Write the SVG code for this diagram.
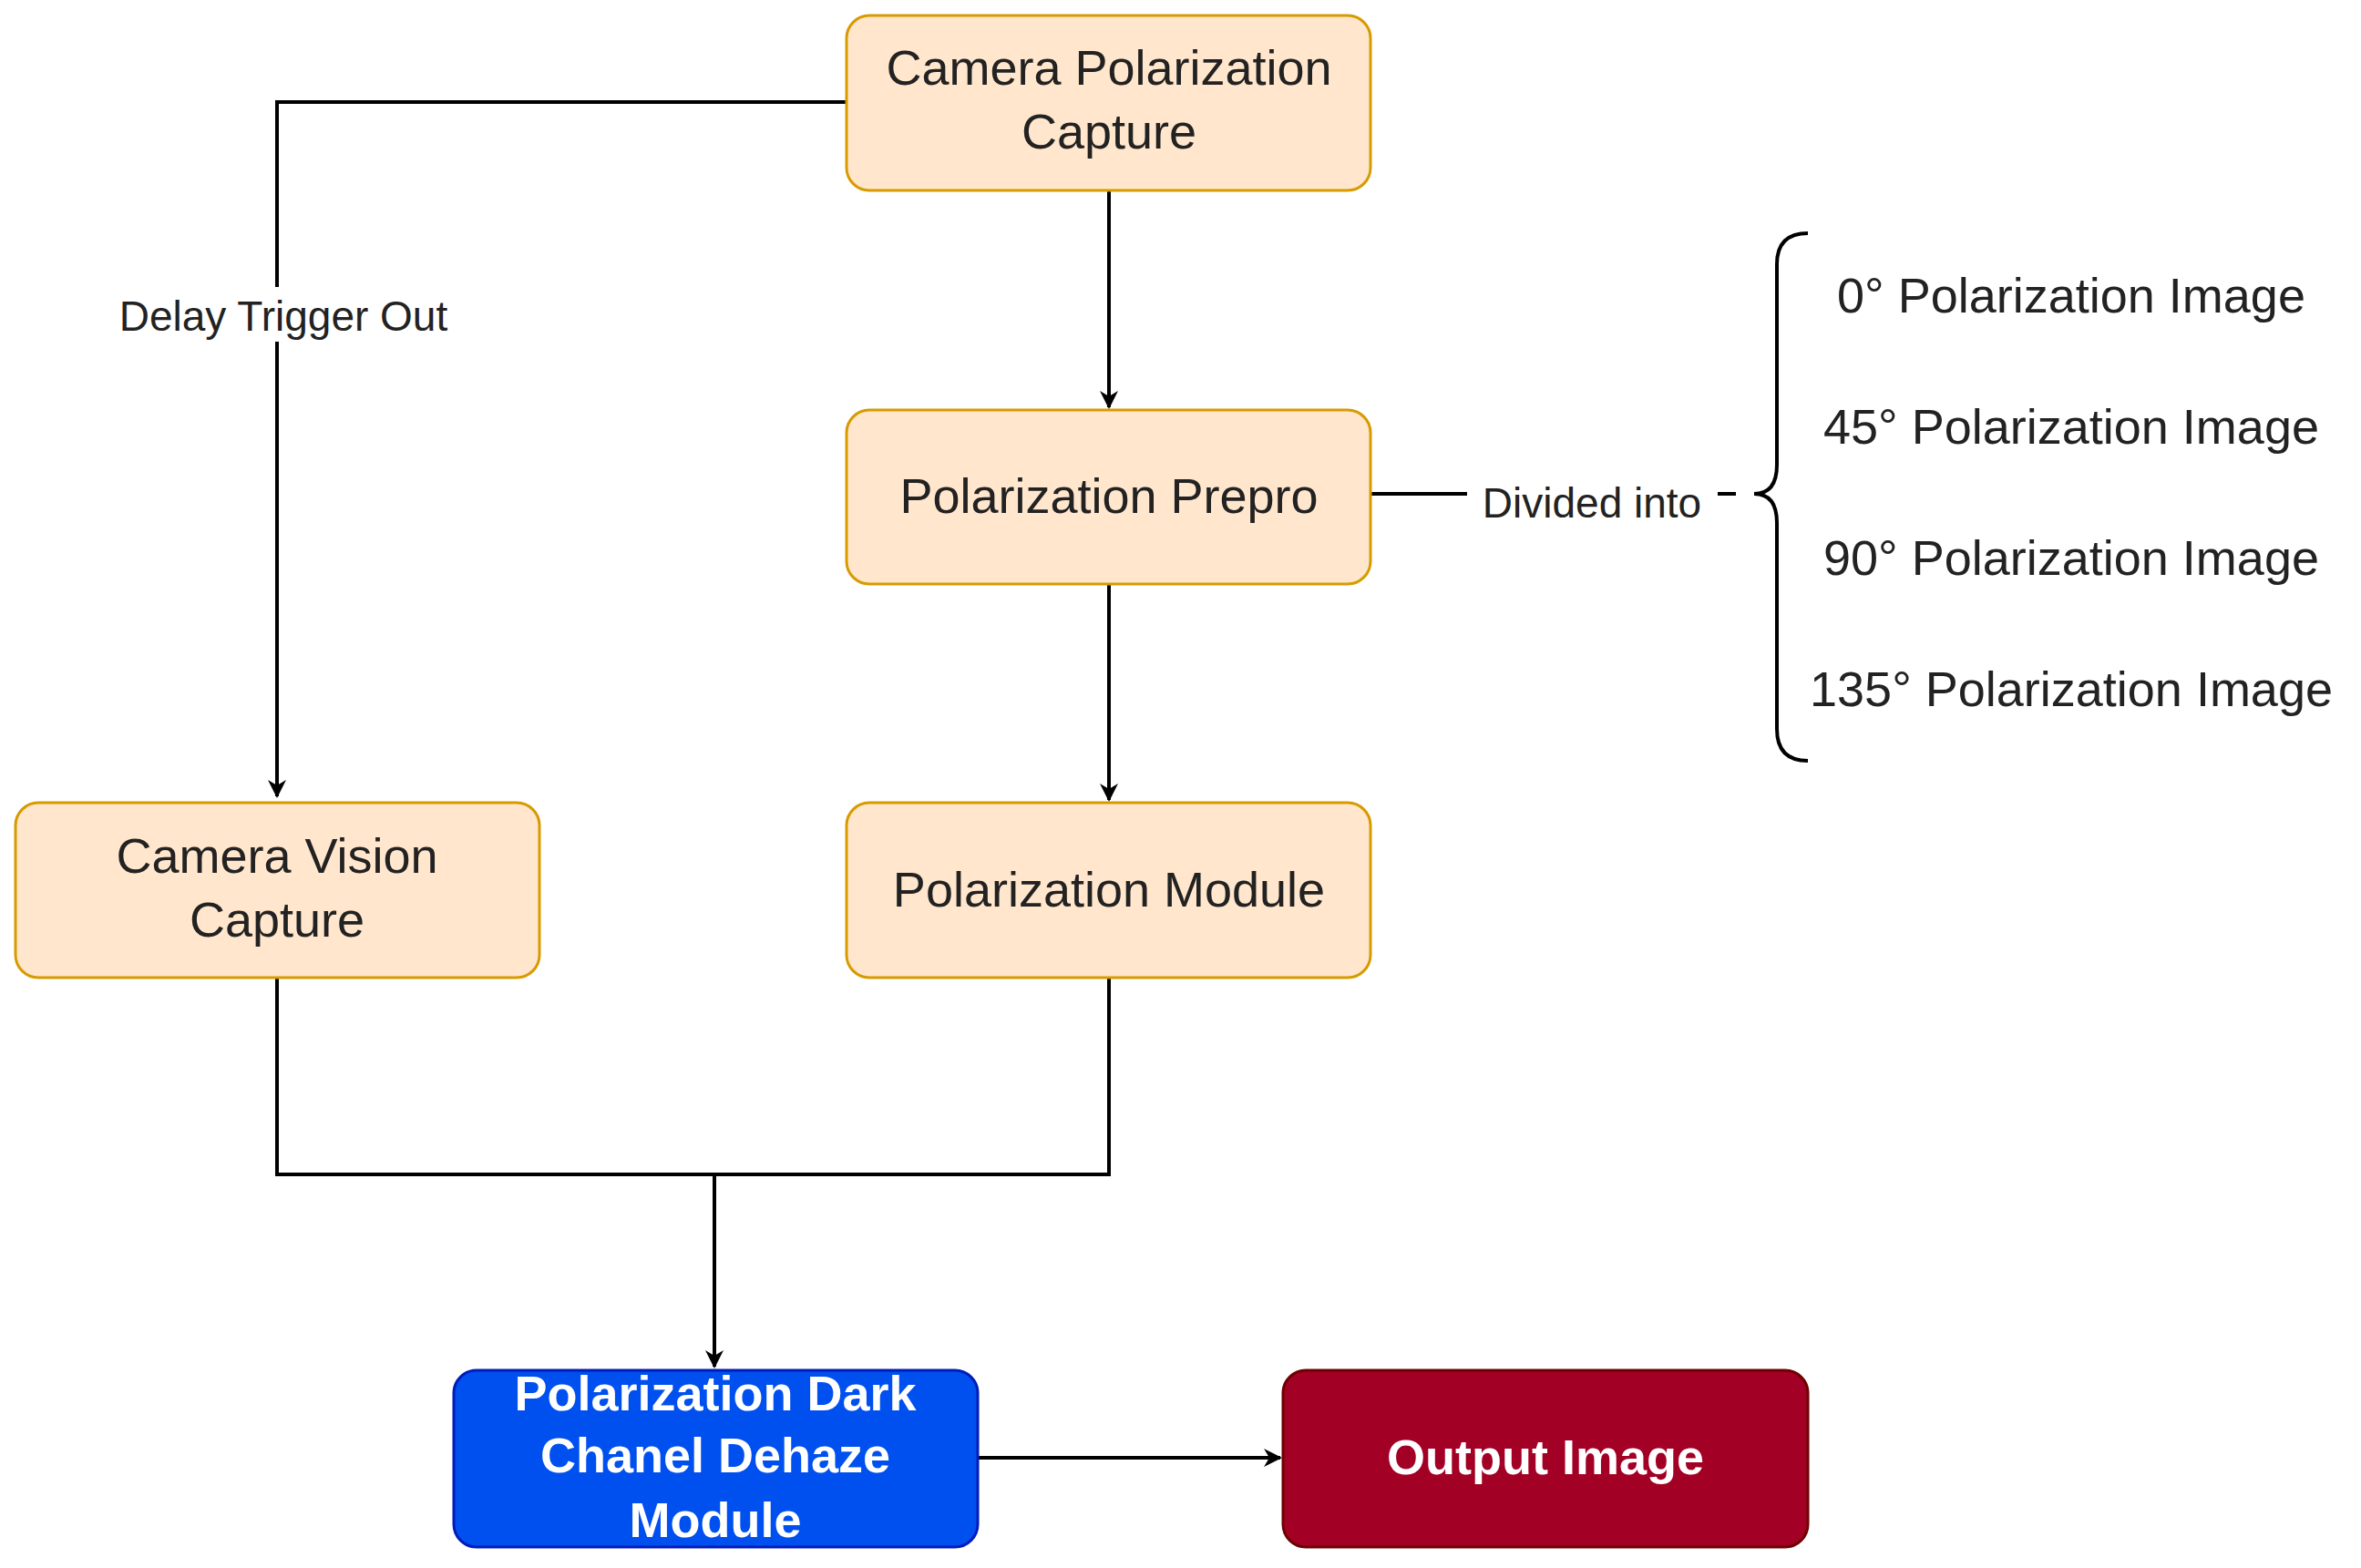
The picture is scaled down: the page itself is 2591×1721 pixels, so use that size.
<svg xmlns="http://www.w3.org/2000/svg" width="2591" height="1721" viewBox="0 0 2591 1721">
<style>
.n{fill:#ffe6cc;stroke:#d79b00;stroke-width:3}
.t{font-family:"Liberation Sans",Arial,sans-serif;font-size:54px;fill:#222;text-anchor:middle}
.w{font-family:"Liberation Sans",Arial,sans-serif;font-size:54px;fill:#fff;text-anchor:middle;font-weight:bold}
.l{font-family:"Liberation Sans",Arial,sans-serif;font-size:46px;fill:#222;text-anchor:middle}
.c{fill:none;stroke:#000;stroke-width:4}
</style>
<defs><marker id="a" viewBox="0 0 10 10" refX="9" refY="5" markerWidth="5" markerHeight="5" orient="auto" markerUnits="strokeWidth"><path d="M0,0 L10,5 L0,10 L3,5 z" fill="#000"/></marker></defs>
<rect width="2591" height="1721" fill="#fff"/>
<g id="connectors">
<path class="c" d="M929,112 H304 V874" marker-end="url(#a)"/>
<rect x="100" y="315" width="420" height="60" fill="#fff"/>
<text class="l" x="311" y="363">Delay Trigger Out</text>
<path class="c" d="M1217,208 V447" marker-end="url(#a)"/>
<path class="c" d="M1217,641 V878" marker-end="url(#a)"/>
<path class="c" d="M304,1073 V1289 H1217 V1073"/>
<path class="c" d="M784,1289 V1500" marker-end="url(#a)"/>
<path class="c" d="M1073,1600 H1405" marker-end="url(#a)"/>
<path class="c" d="M1504,542 H1905"/>
<rect x="1610" y="515" width="275" height="60" fill="#fff"/>
<text class="l" x="1747" y="568">Divided into</text>
<path class="c" d="M1984,256 Q1950,256 1950,290 V510 Q1950,542 1925,542 Q1950,542 1950,574 V800 Q1950,835 1984,835"/>
</g>
<g id="n1"><rect class="n" x="929" y="17" width="575" height="192" rx="25"/><text class="t" x="1217" y="93">Camera Polarization</text><text class="t" x="1217" y="163">Capture</text></g>
<g id="n2"><rect class="n" x="929" y="450" width="575" height="191" rx="25"/><text class="t" x="1217" y="563">Polarization Prepro</text></g>
<g id="n3"><rect class="n" x="17" y="881" width="575" height="192" rx="25"/><text class="t" x="304" y="958">Camera Vision</text><text class="t" x="304" y="1028">Capture</text></g>
<g id="n4"><rect class="n" x="929" y="881" width="575" height="192" rx="25"/><text class="t" x="1217" y="995">Polarization Module</text></g>
<g id="n5"><rect x="498" y="1504" width="575" height="194" rx="25" fill="#0050ef" stroke="#001dbc" stroke-width="3"/><text class="w" x="785" y="1548">Polarization Dark</text><text class="w" x="785" y="1616">Chanel Dehaze</text><text class="w" x="785" y="1687">Module</text></g>
<g id="n6"><rect x="1408" y="1504" width="576" height="194" rx="25" fill="#a20025" stroke="#6f0000" stroke-width="3"/><text class="w" x="1696" y="1618">Output Image</text></g>
<g id="list">
<text class="t" x="2273" y="343">0° Polarization Image</text>
<text class="t" x="2273" y="487">45° Polarization Image</text>
<text class="t" x="2273" y="631">90° Polarization Image</text>
<text class="t" x="2273" y="775">135° Polarization Image</text>
</g>
</svg>
